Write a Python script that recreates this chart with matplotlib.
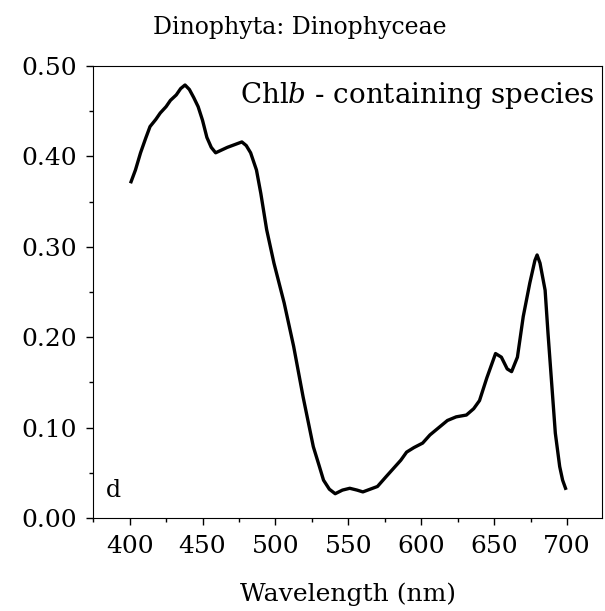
import matplotlib
matplotlib.use('Agg')
import matplotlib.pyplot as plt
from matplotlib.ticker import MultipleLocator

plt.rcParams['font.family'] = 'DejaVu Serif'
plt.rcParams['mathtext.fontset'] = 'dejavuserif'

# absorption spectrum
wavelength = [401, 404, 407.5, 411, 414, 418, 421, 425, 428, 432, 435, 438,
              441, 444, 447, 450, 453, 456, 459, 463, 467, 472, 477, 480,
              483, 487, 490, 494, 499, 506, 512.5, 519, 526, 530, 533, 537,
              541, 546, 551, 556, 560, 565, 570, 576, 581, 586, 590, 595,
              601, 606, 612, 618, 624, 631, 636, 640, 645, 651, 655, 659,
              662, 666, 670, 674.5, 678, 679.5, 681.5, 685, 687, 689.5, 692, 695, 697, 699]
absorbance = [0.372, 0.385, 0.404, 0.420, 0.433, 0.441, 0.448, 0.455, 0.462, 0.468, 0.475, 0.479,
              0.474, 0.465, 0.455, 0.440, 0.421, 0.410, 0.404, 0.407, 0.410, 0.413, 0.416, 0.412,
              0.404, 0.385, 0.359, 0.319, 0.282, 0.238, 0.190, 0.134, 0.079, 0.058, 0.042, 0.032,
              0.027, 0.031, 0.033, 0.031, 0.029, 0.032, 0.035, 0.046, 0.055, 0.064, 0.073, 0.078,
              0.083, 0.092, 0.100, 0.108, 0.112, 0.114, 0.121, 0.130, 0.155, 0.182, 0.178, 0.165,
              0.162, 0.178, 0.223, 0.260, 0.285, 0.291, 0.282, 0.252, 0.204, 0.149, 0.094, 0.057, 0.042, 0.033]

x_ticks = [400, 450, 500, 550, 600, 650, 700]
y_ticks = [0.0, 0.1, 0.2, 0.3, 0.4, 0.5]

fig = plt.figure(figsize=(6.05, 6.11), dpi=100)
ax = fig.add_axes([0.154, 0.152, 0.841, 0.740])
ax.plot(wavelength, absorbance, color='black', linewidth=2.4)

ax.set_xlim(375, 724)
ax.set_ylim(0, 0.5)
ax.set_xticks(x_ticks)
ax.set_yticks(y_ticks)
ax.set_yticklabels(['%.2f' % v for v in y_ticks])
ax.xaxis.set_minor_locator(MultipleLocator(25))
ax.yaxis.set_minor_locator(MultipleLocator(0.05))
ax.tick_params(which='both', direction='out', top=False, right=False, labelsize=18, width=1)
ax.tick_params(which='major', length=5, pad=7)
ax.tick_params(which='minor', length=3)

ax.set_xlabel('Wavelength (nm)', fontsize=18, labelpad=18)
fig.text(0.495, 0.955, 'Dinophyta: Dinophyceae', ha='center', va='center', fontsize=17)
ax.text(0.985, 0.934, 'Chl$b$ - containing species', transform=ax.transAxes,
        ha='right', va='center', fontsize=20)
ax.text(0.025, 0.06, 'd', transform=ax.transAxes, ha='left', va='center', fontsize=17)

fig.savefig('out.png', dpi=100)
